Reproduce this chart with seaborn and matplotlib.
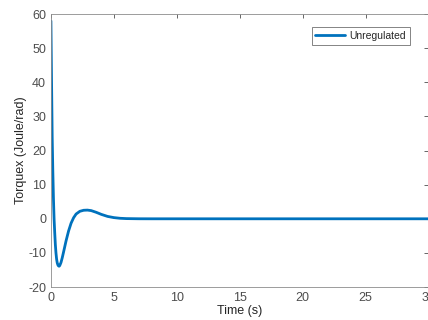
import pandas as pd
import matplotlib
matplotlib.use("Agg")
import matplotlib.pyplot as plt
import seaborn as sns

# values
time_s = [0, 0.05, 0.1, 0.15, 0.2, 0.25, 0.3, 0.35, 0.4, 0.45, 0.5, 0.55, 0.6, 0.65,
          0.7, 0.8, 0.9, 1.0, 1.2, 1.4, 1.6, 1.8, 2.0, 2.3, 2.6, 2.9, 3.2, 3.6, 4.0,
          4.5, 5.0, 5.5, 6.0, 7.0, 8.0, 10, 15, 20, 25, 30]
torque = [58, 40, 24, 14, 6, 0, -4, -7.5, -10, -11.8, -12.9, -13.5, -13.8, -13.9,
          -13.7, -12.8, -11.4, -9.8, -6.5, -3.6, -1.3, 0.3, 1.4, 2.2, 2.5, 2.55, 2.4,
          1.9, 1.3, 0.7, 0.35, 0.15, 0.06, 0.01, 0, 0, 0, 0, 0, 0]
x_ticks = [0, 5, 10, 15, 20, 25, 30]
y_ticks = [-20, -10, 0, 10, 20, 30, 40, 50, 60]

df = pd.DataFrame({"Time (s)": time_s, "Torque": torque})

sns.set_style("white")
plt.rcParams["font.family"] = ["Liberation Sans", "DejaVu Sans"]
plt.rcParams["axes.unicode_minus"] = False

fig = plt.figure(figsize=(4.28, 3.2), dpi=100)
ax = fig.add_axes([0.119, 0.103, 0.882, 0.853])
sns.lineplot(data=df, x="Time (s)", y="Torque", ax=ax, color="#0072BD",
             linewidth=2, label="Unregulated")

ax.set_xlim(0, 30)
ax.set_ylim(-20, 60)
ax.set_xticks(x_ticks)
ax.set_yticks(y_ticks)
ax.set_xlabel("Time (s)", fontsize=9, color="#262626", labelpad=1)
ax.set_ylabel("Torquex (Joule/rad)", fontsize=9, color="#262626", labelpad=1)
ax.tick_params(direction="in", length=3, labelsize=9, colors="#4d4d4d",
               top=True, right=True, width=0.6)
for s in ax.spines.values():
    s.set_color("#8c8c8c")
    s.set_linewidth(0.6)

leg = ax.legend(loc="upper right", fontsize=7.5, frameon=True, fancybox=False,
                handlelength=2.8, handletextpad=0.5, borderpad=0.35,
                bbox_to_anchor=(0.965, 0.97))
leg.get_frame().set_edgecolor("#4d4d4d")
leg.get_frame().set_linewidth(0.6)

fig.savefig("out.png", dpi=100)
